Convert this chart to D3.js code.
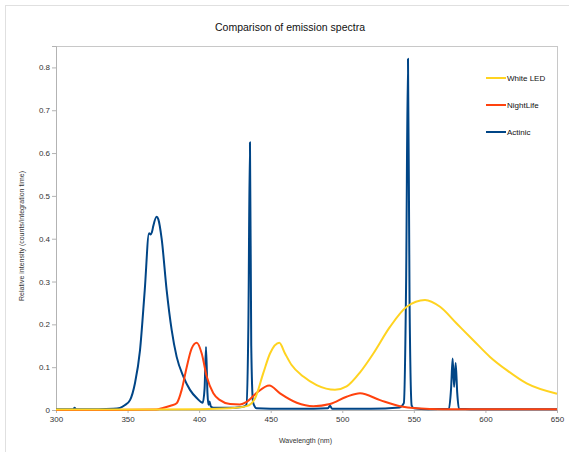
<!DOCTYPE html>
<html>
<head>
<meta charset="utf-8">
<script src="https://cdn.jsdelivr.net/npm/d3@7"></script>
<style>
  body { margin: 0; background: #fff; }
  svg text { font-family: "Liberation Sans", Arial, sans-serif; fill: #333; }
</style>
</head>
<body>
<div id="chart"></div>
<script>
// wavelength (nm) and relative intensity
const actinicWl = [300, 312, 313, 314, 320, 330, 340, 344.7, 348, 351.7, 355.2, 358.7, 362, 365, 366, 367, 368, 370.3, 371.5, 373.8, 377.3, 380.8, 384.3, 389, 393.6, 398.3, 402.5, 403.8, 404.8, 405.8, 406.5, 407.2, 408.2, 410, 420, 430, 433, 434.4, 435.5, 436.4, 437.6, 438.5, 440, 450, 480, 490, 491.4, 492.8, 500, 520, 540, 543, 544.6, 545.9, 547, 548.5, 550, 560, 574.5, 576, 577.1, 578.1, 579.2, 580.3, 581.5, 590, 620, 650];
const actinicVal = [0.002, 0.002, 0.005, 0.002, 0.002, 0.002, 0.003, 0.005, 0.011, 0.023, 0.063, 0.14, 0.28, 0.413, 0.41, 0.415, 0.43, 0.451, 0.445, 0.40, 0.28, 0.187, 0.124, 0.078, 0.047, 0.028, 0.017, 0.05, 0.147, 0.04, 0.012, 0.02, 0.008, 0.005, 0.005, 0.007, 0.012, 0.2, 0.625, 0.15, 0.02, 0.01, 0.004, 0.003, 0.003, 0.004, 0.01, 0.003, 0.003, 0.003, 0.006, 0.016, 0.3, 0.82, 0.25, 0.01, 0.004, 0.002, 0.003, 0.05, 0.12, 0.054, 0.11, 0.04, 0.003, 0.002, 0.002, 0.002];

const nightWl = [300, 340, 370, 374.8, 380, 384.3, 387.8, 391.3, 394.8, 398.3, 401.8, 405.3, 409.9, 414.6, 421.6, 428.5, 433.2, 440.2, 449, 456.5, 468.2, 479.8, 491.4, 503, 512.4, 526.4, 540.3, 552, 570, 600, 650];
const nightVal = [0, 0, 0.001, 0.005, 0.01, 0.016, 0.047, 0.10, 0.144, 0.157, 0.132, 0.078, 0.039, 0.023, 0.014, 0.013, 0.019, 0.04, 0.057, 0.039, 0.017, 0.009, 0.014, 0.031, 0.039, 0.023, 0.009, 0.004, 0.002, 0.002, 0.002];

const ledWl = [300, 350, 400, 421.6, 433.2, 439, 444.8, 449.5, 456, 460, 464.6, 472.8, 482.1, 494.9, 503, 512.4, 521.7, 533.3, 545, 557.8, 568.3, 579.9, 591.5, 603.2, 614.9, 628.8, 650];
const ledVal = [0.001, 0.001, 0.002, 0.004, 0.009, 0.027, 0.086, 0.132, 0.157, 0.132, 0.105, 0.078, 0.058, 0.047, 0.055, 0.088, 0.132, 0.194, 0.241, 0.257, 0.241, 0.202, 0.163, 0.124, 0.093, 0.062, 0.038];

const seriesNames = ["White LED", "NightLife", "Actinic"];
const seriesColors = ["#ffd320", "#ff420e", "#004586"];
const xTicks = [300, 350, 400, 450, 500, 550, 600, 650];
const yTicks = [0, 0.1, 0.2, 0.3, 0.4, 0.5, 0.6, 0.7, 0.8];

const W = 569, H = 452;
const margin = {top: 46, right: 12, bottom: 42, left: 56};
const width = W - margin.left - margin.right;
const height = H - margin.top - margin.bottom;

const svg = d3.select("#chart").append("svg")
    .attr("width", W)
    .attr("height", H);

// outer frame
svg.append("rect")
    .attr("x", 5.5).attr("y", 5.5)
    .attr("width", 600).attr("height", 500)
    .attr("fill", "none")
    .attr("stroke", "#e0e0e0");

svg.append("text")
    .attr("x", 290).attr("y", 31)
    .attr("text-anchor", "middle")
    .style("font-size", "10.5px")
    .style("fill", "#111")
    .text("Comparison of emission spectra");

const g = svg.append("g")
    .attr("transform", `translate(${margin.left}, ${margin.top})`);

const x = d3.scaleLinear().domain([300, 650]).range([0, width]);
const y = d3.scaleLinear().domain([0, 0.85]).range([height, 0]);

// plot frame
g.append("rect")
    .attr("x", 0.5).attr("y", 0.5)
    .attr("width", width).attr("height", height)
    .attr("fill", "none")
    .attr("stroke", "#c8c8c8");

const xAxis = g.append("g")
    .attr("transform", `translate(0, ${height})`)
    .call(d3.axisBottom(x).tickValues(xTicks).tickSize(3).tickPadding(3).tickFormat(d3.format("d")));

const yAxis = g.append("g")
    .call(d3.axisLeft(y).tickValues(yTicks).tickSize(4).tickPadding(2).tickFormat(d => d === 0 ? "0" : d3.format(".1f")(d)));

[xAxis, yAxis].forEach(a => {
    a.select(".domain").attr("stroke", "#b3b3b3");
    a.selectAll(".tick line").attr("stroke", "#b3b3b3");
    a.selectAll(".tick text")
        .style("font-size", "8px")
        .style("font-family", "Liberation Sans, Arial, sans-serif")
        .attr("fill", "#333");
});

svg.append("text")
    .attr("x", margin.left + width / 2 - 1).attr("y", 443)
    .attr("text-anchor", "middle")
    .style("font-size", "7px")
    .text("Wavelength (nm)");

svg.append("text")
    .attr("transform", `translate(24, ${margin.top + height / 2 + 8}) rotate(-90)`)
    .attr("text-anchor", "middle")
    .style("font-size", "7px")
    .text("Relative intensity (counts/integration time)");

const series = [
    {name: "Actinic", wl: actinicWl, val: actinicVal, color: seriesColors[2]},
    {name: "NightLife", wl: nightWl, val: nightVal, color: seriesColors[1]},
    {name: "White LED", wl: ledWl, val: ledVal, color: seriesColors[0]}
];

const line = d3.line()
    .x(d => x(d[0]))
    .y(d => y(d[1]))
    .curve(d3.curveMonotoneX);

g.selectAll(".series")
    .data(series)
    .enter()
    .append("path")
    .attr("class", "series")
    .attr("d", d => line(d.wl.map((w, i) => [w, d.val[i]])))
    .attr("fill", "none")
    .attr("stroke", d => d.color)
    .attr("stroke-width", 2)
    .attr("stroke-linejoin", "round");

// legend
const legend = svg.append("g")
    .attr("transform", "translate(486, 78)");

const items = legend.selectAll("g")
    .data(seriesNames)
    .enter()
    .append("g")
    .attr("transform", (d, i) => `translate(0, ${i * 27})`);

items.append("line")
    .attr("x1", 0).attr("x2", 20)
    .attr("y1", 0).attr("y2", 0)
    .attr("stroke", (d, i) => seriesColors[i])
    .attr("stroke-width", 2);

items.append("text")
    .attr("x", 21).attr("y", 3)
    .style("font-size", "8px")
    .style("fill", "#111")
    .text(d => d);
</script>
</body>
</html>
